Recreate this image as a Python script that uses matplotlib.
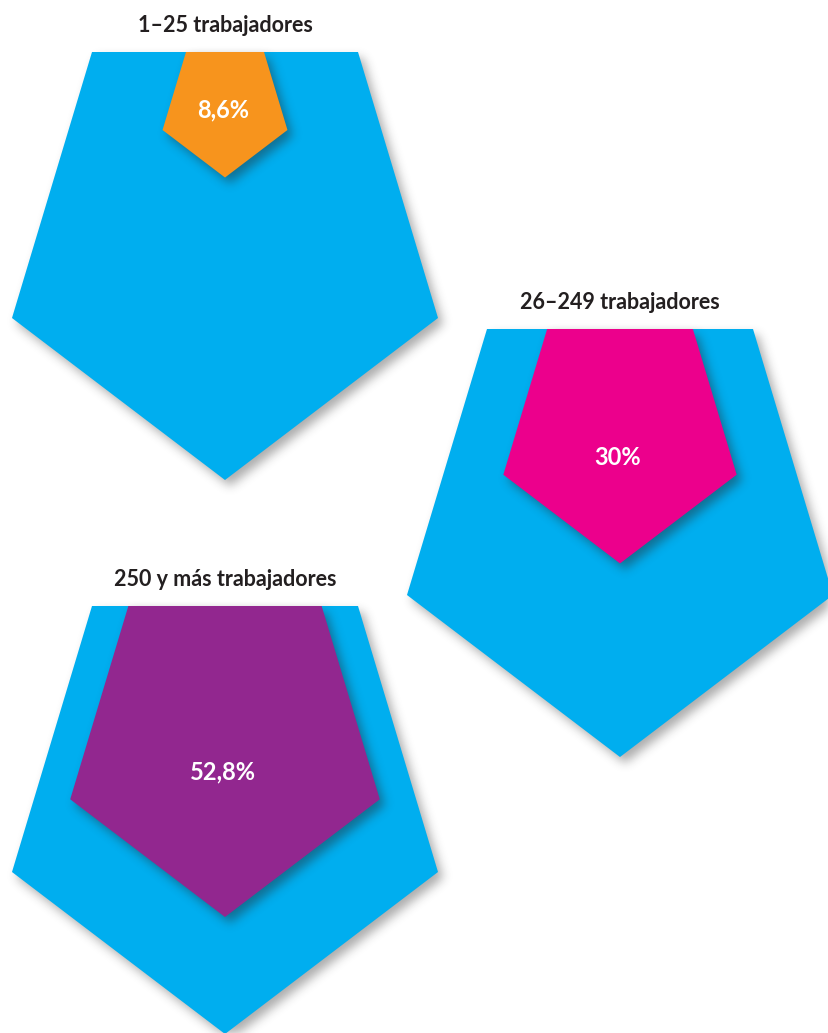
import numpy as np
import matplotlib
matplotlib.use("Agg")
import matplotlib.pyplot as plt
from matplotlib.path import Path
from matplotlib.patches import Polygon

# share of companies per size group (%)
groups = ["1–25 trabajadores", "26–249 trabajadores", "250 y más trabajadores"]
shares = [8.6, 30.0, 52.8]
share_labels = ["8,6%", "30%", "52,8%"]
inner_colors = ["#F7941D", "#EC008C", "#92278F"]
blue = "#00AEEF"

W, H = 829, 1033

# top-centre anchor of each pentagon and where the value label sits (fraction of inner height)
anchors = [(225, 52), (620, 329), (225, 606)]
label_frac = [0.46, 0.55, 0.535]

# full-size pentagon (100%), relative to the middle of its top edge, y pointing down
template = np.array([[-133, 0], [133, 0], [213, 266], [0, 428], [-213, 266]], float)


def pentagon(anchor, scale):
    return template * scale + np.array(anchor)


def blur(a, sigma):
    r = int(3 * sigma)
    k = np.exp(-0.5 * (np.arange(-r, r + 1) / sigma) ** 2)
    k /= k.sum()
    a = np.apply_along_axis(lambda v: np.convolve(v, k, mode="same"), 0, a)
    a = np.apply_along_axis(lambda v: np.convolve(v, k, mode="same"), 1, a)
    return a


xx, yy = np.meshgrid(np.arange(W) + 0.5, np.arange(H) + 0.5)
pts = np.column_stack([xx.ravel(), yy.ravel()])


def shadow_layer(polys, dx=5, dy=6, sigma=5, strength=0.38):
    mask = np.zeros(H * W)
    for p in polys:
        mask = np.maximum(mask, Path(p + [dx, dy]).contains_points(pts))
    mask = blur(mask.reshape(H, W), sigma)
    img = np.zeros((H, W, 4))
    img[..., :3] = 0.15
    img[..., 3] = mask * strength
    return img


outer = [pentagon(a, 1.0) for a in anchors]
inner = [pentagon(a, np.sqrt(s / 100)) for a, s in zip(anchors, shares)]

fig = plt.figure(figsize=(W / 100, H / 100), dpi=100)
ax = fig.add_axes([0, 0, 1, 1])
ax.set_xlim(0, W)
ax.set_ylim(H, 0)
ax.axis("off")

ax.imshow(shadow_layer(outer), extent=(0, W, H, 0), zorder=1, interpolation="bilinear")
for p in outer:
    ax.add_patch(Polygon(p, closed=True, facecolor=blue, edgecolor="none", zorder=2))

ax.imshow(shadow_layer(inner, strength=0.45), extent=(0, W, H, 0), zorder=3, interpolation="bilinear")
for p, c in zip(inner, inner_colors):
    ax.add_patch(Polygon(p, closed=True, facecolor=c, edgecolor="none", zorder=4))

for (x0, y0), name, s, lab, f in zip(anchors, groups, shares, share_labels, label_frac):
    ax.text(x0, y0 - 27, name, ha="center", va="center", fontsize=15.5,
            fontweight="bold", family="Lato", color="#231F20", zorder=5)
    h = 428 * np.sqrt(s / 100)
    ax.text(x0 - 2, y0 + f * h, lab, ha="center", va="center", fontsize=17,
            fontweight="bold", family="Lato", color="white", zorder=5)

fig.savefig("out.png", dpi=100)
